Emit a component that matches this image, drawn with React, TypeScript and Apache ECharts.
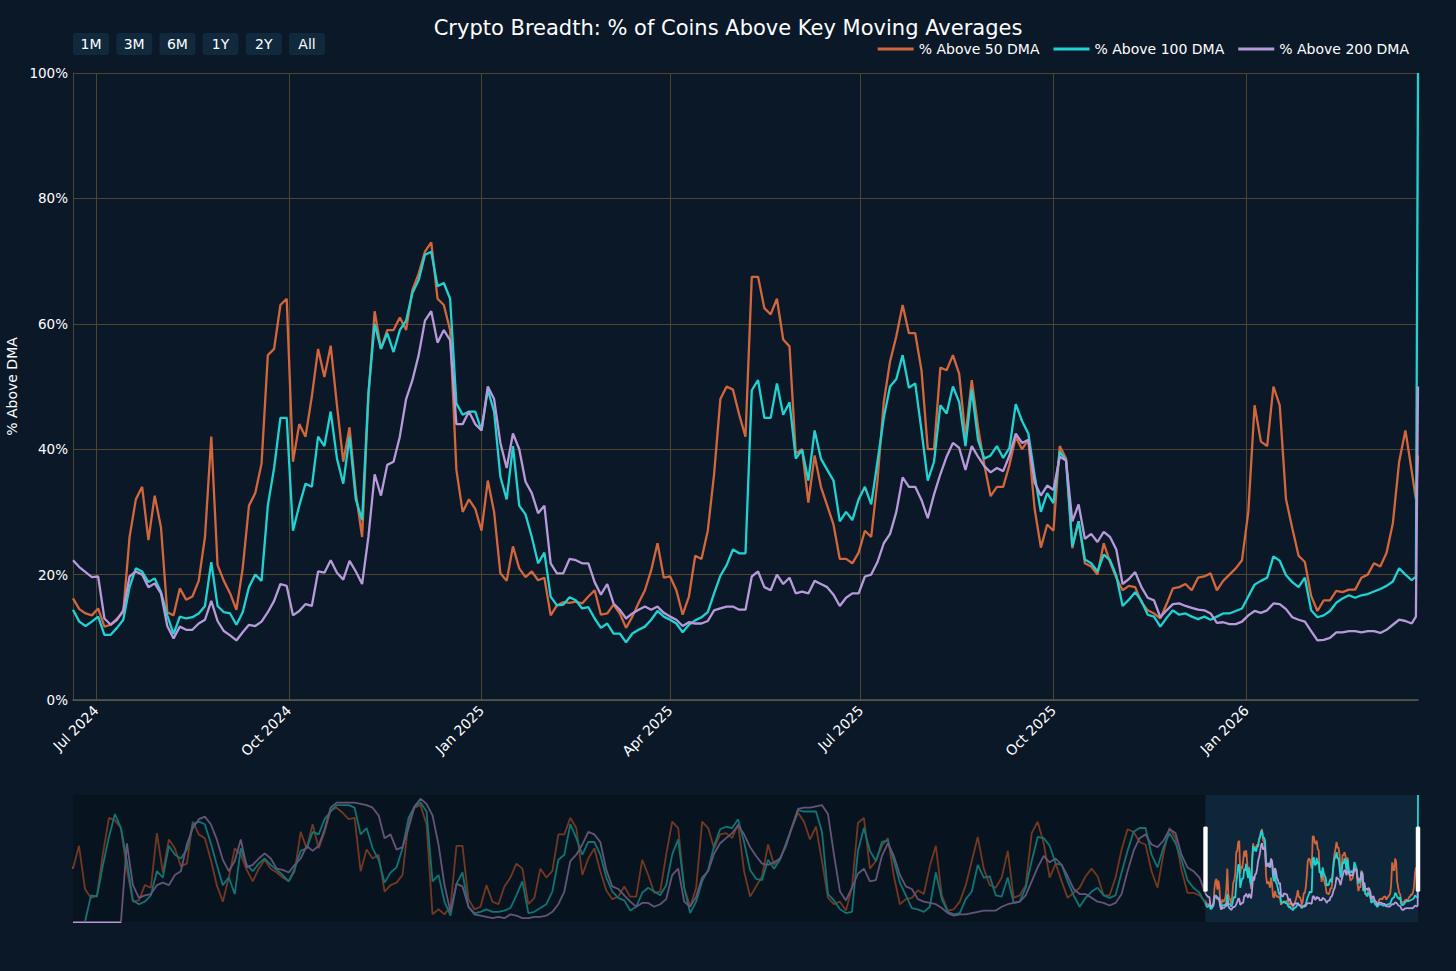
import React, { useEffect, useRef } from 'react';
import * as echarts from 'echarts';

// ---------- data ----------
const DAY = 86400000;
const MAIN_START = Date.UTC(2024, 5, 20);
const MAIN_STEP_DAYS = 3;
const MAIN_EXTRA_DAYS = [641, 642];

const ABOVE_50 = [
  16.2, 14.5, 13.8, 13.5, 14.6, 11.7, 12, 13, 14, 26, 32, 34, 25.5, 32.6, 27.5, 14, 13.5, 17.8, 16, 16.5,
  19, 26, 42, 21.5, 19, 17, 14.4, 21, 31, 33, 37.7, 55, 56, 63, 64, 38, 44, 42, 48.4, 56,
  51.5, 56.5, 47, 38, 43.5, 33, 26, 48.4, 62, 56, 59, 59, 61, 59, 65.4,
  68, 71.5, 73, 64, 63, 59, 36.7, 30, 32, 30.5, 27, 35, 30, 20.2, 19, 24.5, 21, 19.6, 20.5, 19.1,
  19.5, 13.5, 15.1, 15.6, 15.5, 15.7, 15.4, 16.5, 17.5, 13.6, 13.8, 15.2, 13.8, 11.5, 13.3, 15.5, 17.5, 20.7, 25, 19.5,
  19.7, 17.5, 13.6, 16.5, 23, 22.5, 27, 36, 48, 50, 49.5, 45.5, 42,
  67.5, 67.5, 62.5, 61.5, 64, 57.5, 56.4, 39.3, 40, 31.5, 39, 34, 31, 28, 22.5, 22.5, 21.8, 23.5, 27, 26,
  35, 47.5, 54, 58, 63, 58.5, 58.5, 52.6, 40, 40, 53, 52.6, 55, 52, 42, 51, 43.5, 37.5, 32.5, 34,
  34, 37.5, 42, 40, 41.5, 30.5, 24.3, 28, 27, 40.5, 38.5, 24.2, 28.5,
  21.8, 21.3, 20, 25, 22, 19.5, 17.5, 18.2, 18, 15.6, 14.3, 13.8, 13, 15.3, 17.8, 18, 18.5, 17.5, 19.5, 19.7,
  20.2, 17.5, 19, 20, 21, 22.3, 30, 47, 41.2, 40.5, 50, 47, 32, 27.4, 23, 22, 16.6, 14.2, 15.9, 15.9,
  17.4, 17.2, 17.6, 17.6, 19.5, 20, 21.8, 21.3, 23.5, 28.2, 38, 43, 36.5,
  32, 39,
];

const ABOVE_100 = [
  14.4, 12.5, 11.8, 12.5, 13.3, 10.4, 10.4, 11.5, 12.8, 18, 21, 20.5, 18.8, 19.4, 17.2, 13.5, 10.5, 13.3, 13, 13.2,
  13.8, 15, 22, 15, 14, 13.8, 12, 14, 18, 20, 19, 31, 37, 45, 45, 27, 31, 34.5, 34, 42,
  40.5, 46, 38.5, 34.5, 42, 32, 28.7, 48.9, 60, 56, 58.5, 55.5, 59, 60.5, 64.9,
  67, 71, 71.5, 66, 66.5, 64, 47.3, 45.5, 46, 46, 43, 49.5, 46, 35.6, 32, 40.5, 31, 29.6, 26, 21.8,
  23.5, 16.5, 15.1, 15.2, 16.4, 15.9, 14.6, 14.8, 13, 11.5, 12.2, 10.6, 10.6, 9.2, 10.6, 11.2, 11.7, 12.8, 14.2, 13.3,
  12.8, 12.2, 10.8, 12, 12.7, 13.2, 14, 17, 19.8, 21.5, 24, 23.4, 23.4,
  49.4, 51, 45, 45, 50.5, 45.5, 47.5, 38.5, 39.9, 35, 43, 38.5, 36.7, 35, 28.5, 30, 28.7, 32, 34, 31.2,
  38, 45, 50, 51.2, 55, 49.8, 50.5, 43, 35, 38, 47, 45.7, 50, 47.5, 40.5, 49.5, 41.5, 38.5, 39, 40.5,
  38.6, 40.2, 47.2, 44.5, 42.5, 35.8, 30, 33, 31.4, 39.6, 38.2, 24.5, 28.5,
  22.4, 21.8, 20.5, 23.2, 22.3, 19.8, 15, 16, 17.2, 15.8, 13.6, 13.3, 11.7, 13.1, 14.3, 13.6, 13.8, 13.3, 12.9, 13.3,
  12.8, 13.3, 13.8, 13.8, 14.2, 14.6, 16.5, 18.4, 19, 19.5, 22.9, 22.2, 19.9, 18.8, 18, 19.5, 14.3, 13.2, 13.5, 14.2,
  15.5, 16.2, 16.7, 16.3, 16.7, 16.9, 17.3, 17.7, 18.2, 18.9, 21, 20, 19.1,
  19.7, 100,
];

const ABOVE_200 = [
  22.3, 21.2, 20.4, 19.6, 19.7, 13, 12, 12.8, 14.3, 19.7, 20.5, 20, 18, 18.6, 17, 11.8, 9.8, 11.7, 11.2, 11.2,
  12.2, 12.8, 15.8, 12.6, 11, 10.3, 9.5, 10.8, 12, 11.8, 12.5, 14, 15.8, 18.5, 18.2, 13.5, 14.2, 15.3, 15, 20.5,
  20.3, 22.3, 20.3, 19.2, 22.2, 20.5, 18.5, 26, 36, 32.6, 37.5, 38, 42, 48, 51,
  55, 60.5, 62, 57, 59, 57.4, 44, 44, 46, 44, 43, 50, 48, 41, 37, 42.5, 40, 34.8, 33, 29.8,
  31, 21.8, 20.2, 20.2, 22.5, 22.3, 21.8, 21.8, 18.8, 16.8, 18.5, 15.4, 14.4, 13, 13.8, 14.4, 14.9, 14.4, 14.9, 13.9,
  13.3, 12.8, 11.8, 12.4, 12.2, 12.2, 12.6, 14.3, 14.6, 14.9, 14.9, 14.4, 14.4,
  19.7, 20.5, 18, 17.5, 20, 18.5, 19.5, 17, 17.3, 17, 19, 18.5, 18, 16.8, 15, 16.3, 17, 17, 19.7, 20,
  22, 25, 26.5, 30, 35.5, 34, 34, 31.9, 29, 32.8, 36, 38.8, 41, 40.2, 36.7, 40.5, 38.8, 37.3, 36.3, 37,
  36.5, 39, 42.5, 41, 41.5, 34.7, 32.6, 34.2, 33.5, 38.8, 38.2, 28.5, 31.2,
  25.7, 26.5, 25.2, 26.8, 26, 24, 18.5, 19.3, 20.4, 18, 16.3, 15.9, 13.2, 14.3, 15.3, 15.4, 15, 14.7, 14.4, 14.3,
  13.8, 12.3, 12.4, 12.1, 12.1, 12.5, 13.5, 14.2, 13.9, 14.3, 15.4, 15.3, 14.5, 13.2, 12.8, 12.5, 11, 9.5, 9.6, 9.9,
  10.8, 10.8, 11, 11, 10.8, 11, 11, 10.7, 11.2, 12, 12.8, 12.6, 12.2,
  13.3, 50,
];

// full history shown in the range slider (before the main window)
const HIST_STEP_DAYS = 18.1;
const HIST_50 = [
  42, 60, 26, 19, 21, 54, 82, 80, 74, 41, 16, 17, 29, 27, 70, 39, 65, 58, 44, 46,
  79, 69, 66, 49, 29, 16, 35, 58, 53, 41, 32, 42, 49, 42, 39, 35, 32, 40, 71, 58,
  77, 58, 71, 88, 90, 86, 81, 82, 40, 57, 50, 53, 24, 29, 31, 37, 79, 90, 92, 77,
  6, 10, 6, 12, 60, 60, 18, 10, 12, 29, 16, 14, 28, 35, 46, 42, 14, 19, 42, 35,
  40, 69, 69, 82, 74, 37, 50, 58, 40, 25, 18, 20, 28, 20, 20, 49, 37, 23, 24, 53,
  79, 74, 27, 12, 27, 79, 74, 58, 69, 70, 66, 77, 40, 20, 28, 36, 61, 45, 50, 61,
  74, 86, 79, 65, 75, 48, 19, 14, 16, 9, 27, 78, 82, 42, 48, 60, 66, 36, 14, 18,
  19, 25, 22, 44, 60, 21, 9, 10, 16, 29, 48, 67, 42, 29, 27, 35, 56, 19, 21, 29,
  70, 79, 62, 35, 46, 32, 19, 23, 27, 36, 42, 36, 21, 21, 35, 57, 73, 71, 63, 61,
  40, 27, 54, 74, 66, 41, 23, 23, 21,
];
const HIST_100 = [
  0, 0, 0, 21, 20, 45, 67, 85, 74, 48, 17, 14, 16, 21, 40, 35, 60, 53, 50, 57,
  77, 79, 77, 62, 45, 29, 35, 22, 58, 45, 40, 46, 50, 45, 41, 37, 32, 42, 56, 58,
  71, 69, 81, 87, 92, 92, 92, 90, 69, 74, 58, 49, 31, 39, 43, 58, 82, 91, 94, 87,
  32, 37, 16, 5, 30, 39, 12, 7, 8, 10, 8, 8, 9, 11, 21, 32, 7, 8, 11, 14,
  24, 49, 53, 77, 66, 53, 63, 63, 53, 35, 24, 19, 17, 9, 12, 23, 27, 24, 21, 29,
  53, 65, 27, 7, 16, 32, 41, 60, 73, 75, 74, 81, 63, 41, 34, 33, 49, 42, 49, 62,
  75, 88, 87, 87, 87, 71, 22, 17, 10, 7, 8, 56, 74, 56, 48, 63, 64, 48, 31, 21,
  11, 10, 8, 12, 39, 18, 8, 6, 7, 18, 24, 45, 35, 36, 21, 20, 35, 15, 16, 27,
  48, 67, 66, 60, 46, 45, 32, 21, 12, 19, 24, 27, 21, 19, 21, 39, 56, 71, 74, 74,
  53, 43, 59, 70, 62, 49, 33, 27, 23,
];
const HIST_200 = [
  0, 0, 0, 0, 0, 0, 0, 0, 0, 62, 29, 19, 21, 22, 29, 31, 29, 37, 40, 61,
  74, 81, 83, 77, 65, 49, 40, 48, 65, 43, 45, 50, 54, 50, 42, 41, 39, 45, 50, 60,
  56, 60, 73, 90, 94, 94, 94, 94, 93, 92, 90, 84, 66, 69, 57, 59, 74, 91, 97, 93,
  84, 61, 29, 8, 30, 28, 12, 6, 5, 4, 3, 4, 3, 6, 5, 3, 3, 4, 4, 5,
  8, 14, 24, 48, 53, 61, 71, 69, 63, 41, 28, 26, 21, 16, 12, 15, 15, 12, 14, 18,
  37, 42, 16, 12, 20, 35, 40, 54, 62, 66, 70, 76, 69, 59, 52, 46, 45, 47, 50, 60,
  75, 89, 90, 90, 91, 92, 85, 53, 24, 17, 27, 38, 42, 32, 33, 52, 62, 52, 37, 28,
  26, 18, 16, 15, 14, 11, 7, 5, 6, 6, 7, 8, 9, 9, 9, 12, 14, 15, 16, 21,
  32, 43, 52, 47, 50, 45, 36, 26, 22, 22, 19, 16, 15, 13, 15, 22, 40, 56, 66, 69,
  61, 59, 64, 73, 70, 53, 43, 40, 35,
];

const SERIES_NAMES = ['% Above 50 DMA', '% Above 100 DMA', '% Above 200 DMA'];
const SERIES_COLORS = ['#d4663c', '#1fd3d3', '#b79ad9'];

const X_TICK_DATES = [
  [2024, 6], [2024, 9], [2025, 0], [2025, 3], [2025, 6], [2025, 9], [2026, 0],
];
const X_TICK_LABELS = ['Jul 2024', 'Oct 2024', 'Jan 2025', 'Apr 2025', 'Jul 2025', 'Oct 2025', 'Jan 2026'];
const Y_TICKS = [0, 20, 40, 60, 80, 100];
const RANGE_BUTTONS = ['1M', '3M', '6M', '1Y', '2Y', 'All'];
const TITLE = 'Crypto Breadth: % of Coins Above Key Moving Averages';
const Y_NAME = '% Above DMA';

// ---------- helpers ----------
const FONT = "'DejaVu Sans', sans-serif";
const mainDays = (n: number) =>
  Array.from({ length: n }, (_, i) =>
    i < n - MAIN_EXTRA_DAYS.length ? i * MAIN_STEP_DAYS : MAIN_EXTRA_DAYS[i - (n - MAIN_EXTRA_DAYS.length)]
  );
const MAIN_DAYS = mainDays(ABOVE_50.length);
const MAIN_END = MAIN_START + MAIN_DAYS[MAIN_DAYS.length - 1] * DAY;
const HIST_N = HIST_50.length;
const HIST_START = MAIN_START - HIST_N * HIST_STEP_DAYS * DAY;
const X_TICKS = X_TICK_DATES.map(([y, m]) => Date.UTC(y, m, 1));

const mainPairs = (vals: number[]) => vals.map((v, i) => [MAIN_START + MAIN_DAYS[i] * DAY, v]);
const histPairs = (vals: number[]) =>
  vals.map((v, i) => [MAIN_START - (HIST_N - i) * HIST_STEP_DAYS * DAY, v]);

export default function App() {
  const ref = useRef<HTMLDivElement>(null);

  useEffect(() => {
    document.body.style.margin = '0';
    document.body.style.background = '#0a1828';
    const chart = echarts.init(ref.current!, undefined, { renderer: 'svg' });

    const mains = [ABOVE_50, ABOVE_100, ABOVE_200];
    const hists = [HIST_50, HIST_100, HIST_200];

    const mainSeries = mains.map((vals, i) => ({
      type: 'line',
      name: SERIES_NAMES[i],
      xAxisIndex: 0,
      yAxisIndex: 0,
      data: mainPairs(vals),
      showSymbol: false,
      symbol: 'none',
      lineStyle: { width: 2.3, color: SERIES_COLORS[i] },
      itemStyle: { color: SERIES_COLORS[i] },
      z: 3 + i,
    }));

    const sliderSeries = mains.map((vals, i) => ({
      type: 'line',
      name: SERIES_NAMES[i],
      xAxisIndex: 1,
      yAxisIndex: 1,
      data: histPairs(hists[i]).concat(mainPairs(vals)),
      showSymbol: false,
      symbol: 'none',
      lineStyle: { width: 1.8, color: SERIES_COLORS[i] },
      itemStyle: { color: SERIES_COLORS[i] },
      silent: true,
      z: 3 + i,
    }));

    const maskSeries = {
      type: 'custom',
      xAxisIndex: 1,
      yAxisIndex: 1,
      silent: true,
      z: 20,
      data: [[HIST_START, 100, MAIN_START, 0]],
      encode: { x: [0, 2], y: [1, 3] },
      renderItem: (_params: any, api: any) => {
        const a = api.coord([api.value(0), api.value(1)]);
        const b = api.coord([api.value(2), api.value(3)]);
        const e = api.coord([MAIN_END, 0]);
        const hTop = api.coord([MAIN_START, 75])[1];
        const hBot = api.coord([MAIN_START, 24])[1];
        const handle = (x: number) => ({
          type: 'rect',
          shape: { x: x - 2, y: hTop, width: 4, height: hBot - hTop, r: 1 },
          style: { fill: '#ffffff', stroke: '#e8e8e8', lineWidth: 0.5 },
        });
        return {
          type: 'group',
          children: [
            {
              type: 'rect',
              shape: { x: a[0], y: a[1], width: b[0] - a[0], height: b[1] - a[1] },
              style: { fill: 'rgba(0,0,0,0.45)' },
            },
            handle(b[0]),
            handle(e[0]),
          ],
        };
      },
    };

    const buttons = RANGE_BUTTONS.map((label, i) => ({
      type: 'group',
      x: 73 + i * 43.2,
      y: 33,
      children: [
        { type: 'rect', shape: { x: 0, y: 0, width: 36, height: 22, r: 3 }, style: { fill: '#10293d' } },
        {
          type: 'text',
          x: 18,
          y: 11,
          style: {
            text: label,
            fill: '#ffffff',
            font: `14px ${FONT}`,
            align: 'center',
            verticalAlign: 'middle',
          },
        },
      ],
    }));

    const gridColor = '#4c4630';

    chart.setOption({
      animation: false,
      backgroundColor: '#0a1828',
      textStyle: { fontFamily: FONT },
      title: {
        text: TITLE,
        left: 'center',
        top: 12,
        textStyle: { color: '#ffffff', fontSize: 21, fontWeight: 'normal', fontFamily: FONT },
      },
      legend: {
        top: 37,
        right: 42,
        icon: 'rect',
        itemWidth: 36,
        itemHeight: 3,
        itemGap: 14,
        data: SERIES_NAMES,
        textStyle: { color: '#ffffff', fontSize: 14, fontFamily: FONT },
      },
      tooltip: { show: false },
      grid: [
        { left: 73, right: 38, top: 73, bottom: 271, containLabel: false, outerBoundsMode: 'none' },
        {
          left: 73,
          right: 38,
          top: 795,
          height: 127,
          show: true,
          backgroundColor: '#0d2639',
          borderWidth: 0,
          containLabel: false,
          outerBoundsMode: 'none',
        },
      ],
      xAxis: [
        {
          type: 'value',
          gridIndex: 0,
          min: MAIN_START,
          max: MAIN_END,
          axisLine: { show: true, onZero: false, lineStyle: { color: '#5a5a4e', width: 1.5 } },
          axisTick: { show: false, customValues: X_TICKS },
          axisLabel: {
            customValues: X_TICKS,
            rotate: 45,
            margin: 8,
            color: '#ffffff',
            fontSize: 14,
            fontFamily: FONT,
            hideOverlap: false,
            formatter: (v: number) => {
              const idx = X_TICKS.findIndex((t) => Math.abs(t - v) < DAY);
              return idx >= 0 ? X_TICK_LABELS[idx] : '';
            },
          },
          splitLine: { show: true, lineStyle: { color: gridColor, width: 1 } },
        },
        { type: 'value', gridIndex: 1, min: HIST_START, max: MAIN_END, show: false, splitLine: { show: false } },
      ],
      yAxis: [
        {
          type: 'value',
          gridIndex: 0,
          min: 0,
          max: 100,
          interval: 20,
          name: Y_NAME,
          nameLocation: 'middle',
          nameGap: 46,
          nameRotate: 90,
          nameTextStyle: { color: '#ffffff', fontSize: 14, fontFamily: FONT },
          axisLine: { show: true, lineStyle: { color: gridColor, width: 1 } },
          axisTick: { show: false, customValues: Y_TICKS },
          axisLabel: { customValues: Y_TICKS, formatter: '{value}%', color: '#ffffff', fontSize: 13.5, margin: 5, fontFamily: FONT },
          splitLine: { show: true, lineStyle: { color: gridColor, width: 1 } },
        },
        { type: 'value', gridIndex: 1, min: 0, max: 100, show: false, splitLine: { show: false } },
      ],
      graphic: buttons,
      series: [...mainSeries, ...sliderSeries, maskSeries],
    });

    return () => chart.dispose();
  }, []);

  return <div ref={ref} style={{ position: 'fixed', left: 0, top: 0, width: 1456, height: 971 }} />;
}
